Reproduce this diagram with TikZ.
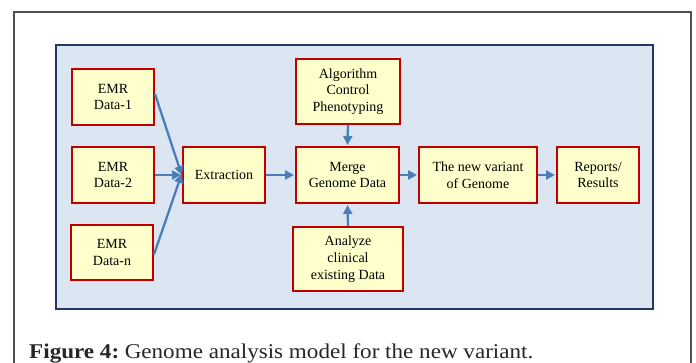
\documentclass[tikz,border=0pt]{standalone}
\usepackage{fontspec}
\setmainfont{Liberation Serif}
\usetikzlibrary{arrows.meta}
\definecolor{boxfill}{HTML}{FFFFCC}
\definecolor{boxline}{HTML}{C00000}
\definecolor{panelfill}{HTML}{DCE6F2}
\definecolor{panelline}{HTML}{1F3864}
\definecolor{flow}{HTML}{4A7EBB}
\definecolor{framegray}{HTML}{505050}
\tikzset{
  stepbox/.style={draw=boxline, fill=boxfill, line width=2pt, align=center,
    inner sep=0pt, font=\fontsize{14}{16.7}\selectfont, text=black},
  flowarrow/.style={draw=flow, line width=2.3pt,
    -{Triangle[length=9pt,width=9pt]}, shorten >=1pt},
}
\begin{document}
\begin{tikzpicture}[x=1pt,y=-1pt]
\useasboundingbox (0,0) rectangle (696,362);
% outer figure frame
\draw[framegray, line width=1.3pt] (14,370) -- (14,12) -- (691,12) -- (691,370);
% diagram panel
\draw[panelline, fill=panelfill, line width=2pt] (56,45) rectangle (653,309);

% process boxes
\node[stepbox, minimum width=82pt, minimum height=56pt] (d1) at (113,97) {EMR\\Data-1};
\node[stepbox, minimum width=82pt, minimum height=56pt] (d2) at (113,175) {EMR\\Data-2};
\node[stepbox, minimum width=82pt, minimum height=55pt] (dn) at (112,252.5) {EMR\\Data-n};
\node[stepbox, minimum width=82pt, minimum height=56pt] (ex) at (224,175) {Extraction};
\node[stepbox, minimum width=104pt, minimum height=65pt] (alg) at (348,91.5) {Algorithm\\Control\\Phenotyping};
\node[stepbox, minimum width=103pt, minimum height=56pt] (mg) at (347.5,175) {Merge\\Genome Data};
\node[stepbox, minimum width=110pt, minimum height=64pt] (an) at (348,259) {Analyze\\clinical\\existing Data};
\node[stepbox, minimum width=118pt, minimum height=56pt] (nv) at (478,175) {The new variant\\of Genome};
\node[stepbox, minimum width=82pt, minimum height=56pt] (rp) at (598,175) {Reports/\\Results};

% connectors
\draw[flowarrow] ([yshift=3pt]d1.east) -- ([yshift=-1pt]ex.west);
\draw[flowarrow] (d2.east) -- (ex.west);
\draw[flowarrow] ([yshift=-2pt]dn.east) -- ([yshift=2pt]ex.west);
\draw[flowarrow] (ex.east) -- (mg.west);
\draw[flowarrow] (alg.south) -- (mg.north);
\draw[flowarrow] (an.north) -- (mg.south);
\draw[flowarrow] (mg.east) -- (nv.west);
\draw[flowarrow] (nv.east) -- (rp.west);

% caption
\node[anchor=base west, inner sep=0pt, xscale=1.1, font=\fontsize{21}{24}\selectfont, text=black!85] (cap) at (29,358)
  {\textbf{Figure 4:}\kern-2pt{} Genome analysis model for the new variant.};
\end{tikzpicture}
\end{document}
